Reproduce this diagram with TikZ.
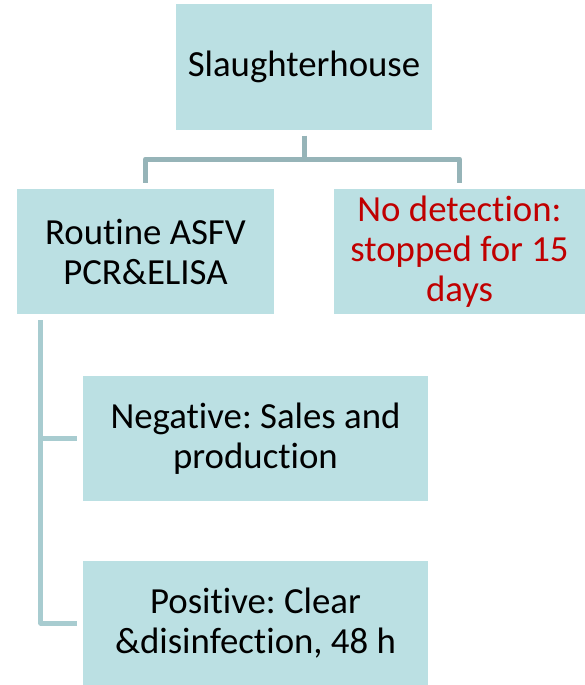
\documentclass[tikz,border=0pt]{standalone}
\usepackage{fontspec}
\setmainfont{Carlito}[Ligatures={NoCommon,NoRequired,NoContextual}]
\usetikzlibrary{calc}
\frenchspacing
\definecolor{boxfill}{RGB}{187,224,227}
\definecolor{trunkgray}{RGB}{150,180,184}
\definecolor{branchgray}{RGB}{168,204,208}
\definecolor{alertred}{RGB}{192,0,0}

\begin{document}
\begin{tikzpicture}[x=1pt, y=-1pt,
		box/.style={fill=boxfill, inner sep=0pt, align=center, font=\fontsize{36.8}{40}\selectfont},
		trunk/.style={line width=5pt, color=trunkgray, line join=round, shorten <=6pt, shorten >=6pt},
		branch/.style={line width=5pt, color=branchgray, line join=round, shorten <=6pt, shorten >=6pt}]
		%%%%% START %%%%%
		
		\useasboundingbox[fill=white] (0, 0) rectangle (585, 685);
		
		\node[box, minimum width=256pt, minimum height=125pt] (slaughter) at (304, 67) {Slaughterhouse};
		
		\node[box, minimum width=257pt, minimum height=125pt] (routine) at (145.5, 251.5) {Routine ASFV\\PCR\&ELISA};
		\node[box, minimum width=251pt, minimum height=125pt, text=alertred] (nodetect) at (459.5, 251.5) {No detection:\\stopped for 15\\days};
		
		\node[box, minimum width=345pt, minimum height=125pt] (negative) at (255.5, 438.5) {Negative: Sales and\\production};
		\node[box, minimum width=345pt, minimum height=124pt] (positive) at (255.5, 623) {Positive: Clear\\\&disinfection, 48 h};
		
		\coordinate (split) at (304, 159);
		\draw[trunk, shorten >=0pt] (slaughter.south) -- (split);
		\draw[trunk] (routine.north) |- (split) -| (nodetect.north);
		
		\draw[branch] ([xshift=24pt]routine.south west) |- (negative.west);
		\draw[branch] ([xshift=24pt]routine.south west) |- (positive.west);
		
		%%%%% END %%%%%
	\end{tikzpicture}
\end{document}
